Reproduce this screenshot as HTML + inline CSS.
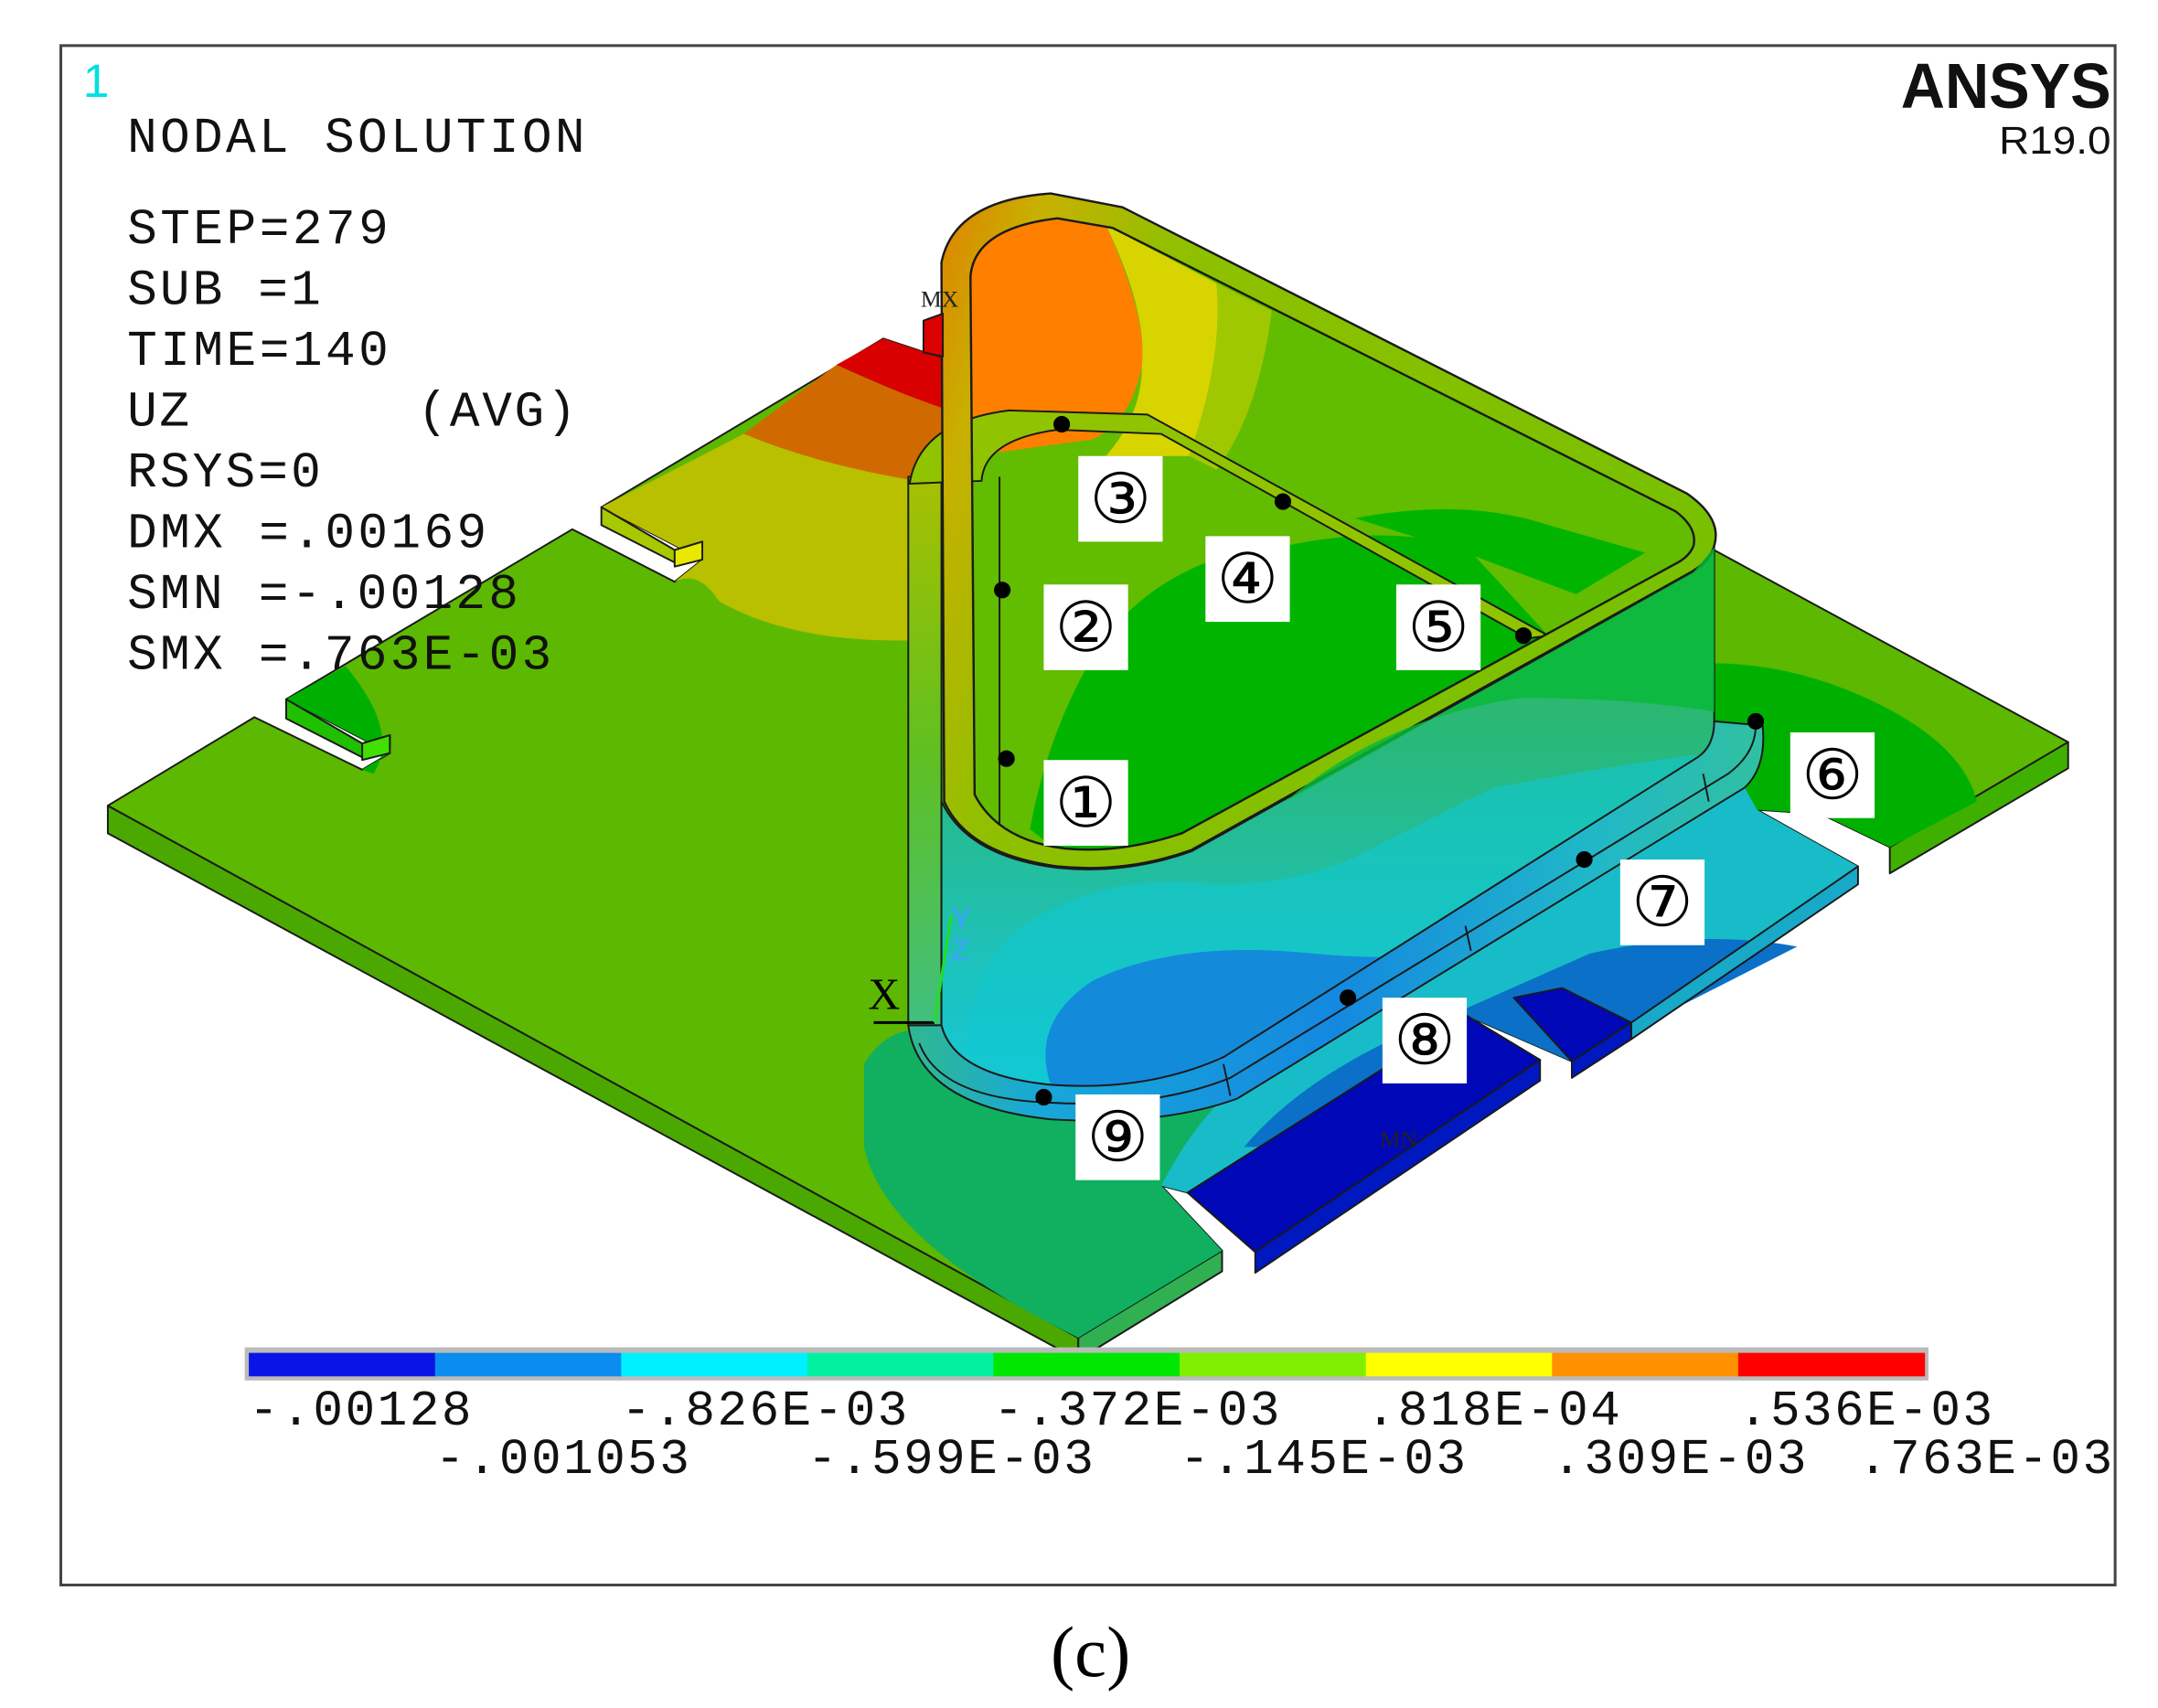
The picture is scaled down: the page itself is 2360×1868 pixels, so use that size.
<!DOCTYPE html>
<html><head><meta charset="utf-8"><style>
html,body{margin:0;padding:0;background:#fff;}
svg{display:block;}
.t{font-family:"Liberation Mono",monospace;font-size:36px;fill:#111;}
.num{font-family:"Liberation Serif","DejaVu Serif",serif;font-size:50px;fill:#000;}
</style></head><body>
<svg id="fig" width="2360" height="1868" viewBox="0 0 1561 1236" preserveAspectRatio="none" xmlns="http://www.w3.org/2000/svg">
<defs>
<linearGradient id="wallFront" x1="0" y1="0" x2="0" y2="1">
<stop offset="0" stop-color="#38b850"/><stop offset="0.35" stop-color="#28b878"/><stop offset="0.7" stop-color="#20c0b0"/><stop offset="1" stop-color="#14c8d8"/>
</linearGradient>
<linearGradient id="flange" x1="0" y1="0" x2="1" y2="0">
<stop offset="0" stop-color="#30b890"/><stop offset="0.15" stop-color="#18a8d8"/><stop offset="0.5" stop-color="#1488e0"/><stop offset="0.8" stop-color="#20b8c8"/><stop offset="1" stop-color="#30c0a0"/>
</linearGradient>
<linearGradient id="leftStrip" x1="0" y1="0" x2="0" y2="1">
<stop offset="0" stop-color="#a8c000"/><stop offset="0.5" stop-color="#60c020"/><stop offset="1" stop-color="#40c080"/>
</linearGradient>
<linearGradient id="rimGrad" x1="0" y1="0" x2="1" y2="0.3">
<stop offset="0" stop-color="#e08000"/><stop offset="0.12" stop-color="#c8b000"/><stop offset="0.3" stop-color="#90c000"/><stop offset="1" stop-color="#78c000"/>
</linearGradient>
</defs>
<rect x="44" y="33" width="1486" height="1114" fill="#fff" stroke="#444" stroke-width="2"/>
<g stroke="#1a1a1a" stroke-width="1.3" stroke-linejoin="round">
<polygon points="78,583 780,968 780,984 78,603" fill="#4aa800"/>
<polygon points="780,968 884,905 884,920 780,984" fill="#30b050"/>
<polygon points="1496,537 1496,556 1367,632 1367,613" fill="#40b000"/>
<polygon points="78,583 184,519 262,557 282,545 207,506 414,383 488,421 508,405 435,367 639,245 690,262 1238,397 1496,537 1367,613 1317,589 1271,586 1344,627 1137,768 1061,735 1114,767 908,906 859,863 840,858 884,905 780,968" fill="#5cb800"/>
<path d="M605,264 L639,245 L690,262 L690,300 Q640,280 605,264Z" fill="#d80000" stroke="none"/>
<path d="M538,314 L605,264 Q650,285 690,298 L690,352 Q600,340 538,314Z" fill="#d06a00" stroke="none"/>
<path d="M435,367 L538,314 Q600,340 690,352 L690,462 Q580,470 520,435 Q505,412 488,421 L508,405Z" fill="#b8c000" stroke="none"/>
<path d="M207,506 L250,482 Q290,530 270,560 L262,557 L282,545Z" fill="#00b000" stroke="none"/>
<path d="M1238,480 Q1300,480 1360,510 Q1420,540 1430,580 L1367,613 L1317,589 L1271,586 Q1255,560 1238,540Z" fill="#00b000" stroke="none"/>
<path d="M625,770 Q640,745 665,745 Q720,800 800,800 L900,795 L840,858 L884,905 L780,968 Q640,900 625,830Z" fill="#10b060" stroke="none"/>
<path d="M880,800 L1262,570 L1271,586 L1344,627 L1137,768 L1061,735 L859,863 L840,858 Q860,820 880,800Z" fill="#18bcc8" stroke="none"/>
<path d="M900,830 Q950,770 1060,730 L1150,690 Q1230,672 1300,685 L1137,768 L1061,735 L920,830Z" fill="#0a70c8" stroke="none"/>
<polygon points="859,863 1061,735 1114,767 908,906" fill="#0008b8"/>
<polygon points="908,906 1114,767 1114,782 908,921" fill="#0018c0"/>
<polygon points="1095,722 1130,715 1180,740 1137,768" fill="#0008b8"/>
<polygon points="1137,768 1180,740 1180,752 1137,780" fill="#0018c0"/>
<polygon points="1180,740 1344,627 1344,640 1180,752" fill="#18a8c8"/>
<polygon points="435,367 435,380 488,407 508,402 508,392 488,398" fill="#a8c800"/>
<polygon points="488,398 508,392 508,405 488,410" fill="#e8e800"/>
<polygon points="207,506 207,520 262,548 282,540 282,532 262,538" fill="#20c000"/>
<polygon points="262,538 282,532 282,545 262,550" fill="#40e000"/>
<path d="M681,190 Q690,145 760,140 L812,150 L1220,357 Q1246,375 1240,395 Q1237,405 1225,413 L862,615 Q815,632 765,627 Q700,618 683,580 Z" fill="#62bc00" stroke="none"/>
<path d="M702,200 Q705,165 765,158 L800,163 Q830,230 826,265 Q818,305 790,318 L702,330Z" fill="#ff8000" stroke="none"/>
<path d="M800,163 L880,205 Q885,260 860,330 L800,330 Q826,300 826,265 Q830,225 800,163Z" fill="#d8d400" stroke="none"/>
<path d="M880,205 L920,225 Q910,300 880,340 L860,330 Q885,260 880,205Z" fill="#a0c800" stroke="none"/>
<path d="M745,600 Q760,520 800,460 Q850,400 930,395 Q1000,380 1060,395 L1120,460 L1200,420 L1212,410 L855,603 Q800,620 760,612Z" fill="#00b400" stroke="none"/>
<path d="M980,375 Q1060,360 1120,380 L1190,400 L1140,430 L1060,400Z" fill="#00b400" stroke="none"/>
<polygon points="657,345 681,345 681,742 657,742" fill="url(#leftStrip)"/>
<path d="M658,350 Q665,305 730,297 L830,300 L1120,460 L1105,462 L840,314 L765,311 Q712,318 710,348 Z" fill="#90c400"/>
<line x1="702" y1="345" x2="702" y2="590"/>
<line x1="723" y1="345" x2="723" y2="600"/>
<path fill-rule="evenodd" d="M681,190 Q690,145 760,140 L812,150 L1220,357 Q1246,375 1240,395 Q1237,405 1225,413 L862,615 Q815,632 765,627 Q700,618 683,580 Z M702,200 Q705,165 765,158 L805,165 L1212,370 Q1228,382 1225,395 Q1222,403 1212,408 L855,603 Q810,618 770,614 Q722,608 705,575 Z" fill="url(#rimGrad)" stroke-width="1.6"/>
<path d="M681,580 Q700,620 765,628 Q815,633 862,616 L1225,414 Q1237,406 1240,396 L1240,522 Q1240,540 1228,548 L885,765 Q830,790 760,785 Q690,778 681,742 Z" fill="url(#wallFront)"/>
<path d="M930,580 Q1000,520 1100,505 Q1180,505 1240,515 L1240,396 L1225,414 Z" fill="#08b838" stroke="none" opacity="0.85"/>
<path d="M700,760 Q700,700 740,670 Q800,630 880,640 Q950,640 1000,610 L1080,570 Q1160,555 1236,545 L1228,548 L885,765 Q830,790 760,785Z" fill="#10c8d0" stroke="none" opacity="0.6"/>
<path d="M760,785 Q745,740 790,710 Q850,680 950,690 Q1000,695 1050,690 L885,765 Q830,790 760,785Z" fill="#1484dc" stroke="none" opacity="0.9"/>
<path d="M657,742 Q665,800 760,810 Q840,815 895,795 L1262,570 Q1278,555 1275,525 L1240,522 Q1240,540 1228,548 L885,765 Q830,790 760,785 Q690,778 681,742Z" fill="url(#flange)"/>
<path d="M665,755 Q680,795 760,798 Q835,802 890,780 L1250,560 Q1270,545 1270,525" fill="none"/>
<line x1="885" y1="770" x2="890" y2="793"/>
<line x1="1060" y1="670" x2="1064" y2="688"/>
<line x1="1232" y1="560" x2="1236" y2="580"/>
<polygon points="668,232 682,227 682,258 668,255" fill="#dd0000"/>
</g>
<text x="666" y="222" font-family="Liberation Serif,serif" font-size="17" fill="#222">MX</text>
<text x="998" y="830" font-family="Liberation Serif,serif" font-size="17" fill="#222">MN</text>
<g>
<line x1="632" y1="740" x2="676" y2="740" stroke="#000" stroke-width="2"/>
<line x1="676" y1="740" x2="688" y2="662" stroke="#20e020" stroke-width="2"/>
<text x="628" y="730" font-family="Liberation Serif,serif" font-size="32" fill="#000">X</text>
<text x="688" y="672" font-family="Liberation Sans,sans-serif" font-size="22" fill="#40a0ff">Y</text>
<text x="688" y="695" font-family="Liberation Sans,sans-serif" font-size="22" fill="#40a0ff">Z</text>
</g>
<g id="markers"></g>
<text x="60" y="70" font-family="Liberation Sans,sans-serif" font-size="34" fill="#00e0e0">1</text>
<text class="t" x="92" y="110" textLength="331">NODAL SOLUTION</text>
<text class="t" x="92" y="176" textLength="189">STEP=279</text>
<text class="t" x="92" y="220" textLength="140">SUB =1</text>
<text class="t" x="92" y="264" textLength="189">TIME=140</text>
<text class="t" x="92" y="308" textLength="325" xml:space="preserve">UZ       (AVG)</text>
<text class="t" x="92" y="352" textLength="140">RSYS=0</text>
<text class="t" x="92" y="396" textLength="260">DMX =.00169</text>
<text class="t" x="92" y="440" textLength="283">SMN =-.00128</text>
<text class="t" x="92" y="484" textLength="307">SMX =.763E-03</text>
<text x="1375" y="78" font-family="Liberation Sans,sans-serif" font-weight="bold" font-size="46" textLength="152" lengthAdjust="spacingAndGlyphs" fill="#111">ANSYS</text>
<text x="1446" y="111" font-family="Liberation Sans,sans-serif" font-size="28" textLength="81" lengthAdjust="spacingAndGlyphs" fill="#111">R19.0</text>
<g id="colorbar"></g>
<text x="760" y="1213" font-family="Liberation Serif,serif" font-size="52" fill="#000">(c)</text>
</svg>
<script>
const legendColors=['#0a14e6','#0a8cf0','#00f0ff','#00f0a0','#00e600','#80f000','#ffff00','#ff9000','#ff0000'];
const tickLabelsTop=['-.00128','-.826E-03','-.372E-03','.818E-04','.536E-03'];
const tickLabelsBottom=['-.001053','-.599E-03','-.145E-03','.309E-03','.763E-03'];
const markerNums=['①','②','③','④','⑤','⑥','⑦','⑧','⑨'];
const NS='http://www.w3.org/2000/svg';
const cb=document.getElementById('colorbar');
const x0=180,x1=1392,segW=(x1-x0)/legendColors.length;
const frame=document.createElementNS(NS,'rect');
frame.setAttribute('x',x0-3);frame.setAttribute('y',975);frame.setAttribute('width',x1-x0+6);frame.setAttribute('height',24);frame.setAttribute('fill','#bbb');


cb.appendChild(frame);
legendColors.forEach((c,i)=>{const r=document.createElementNS(NS,'rect');
r.setAttribute('x',x0+i*segW);r.setAttribute('y',979);r.setAttribute('width',segW+0.5);r.setAttribute('height',17);r.setAttribute('fill',c);


cb.appendChild(r);});
function addLbl(txt,x,y){const t=document.createElementNS(NS,'text');t.setAttribute('x',x);t.setAttribute('y',y);t.setAttribute('class','t');
t.setAttribute('textLength',txt.length*23);t.textContent=txt;


cb.appendChild(t);}
tickLabelsTop.forEach((s,i)=>addLbl(s,x0+i*2*segW,1031));
tickLabelsBottom.forEach((s,i)=>addLbl(s,Math.min(x0+(i*2+1)*segW,1528-s.length*23),1066));
const dots=[[728,549],[725,427],[768,307],[928,363],[1102,460],[1270,522],[1146,622],[975,722],[755,794]];
const boxes=[[755,550],[755,423],[780,330],[872,388],[1010,423],[1295,530],[1172,622],[1000,722],[778,792]];
const mg=document.getElementById('markers');
dots.forEach((d,i)=>{const c=document.createElementNS(NS,'circle');c.setAttribute('cx',d[0]);c.setAttribute('cy',d[1]);c.setAttribute('r',6);c.setAttribute('fill','#000');


mg.appendChild(c);
const b=boxes[i];const r=document.createElementNS(NS,'rect');r.setAttribute('x',b[0]);r.setAttribute('y',b[1]);r.setAttribute('width',61);r.setAttribute('height',62);r.setAttribute('fill','#fff');


mg.appendChild(r);
const t=document.createElementNS(NS,'text');t.setAttribute('x',b[0]+30.5);t.setAttribute('y',b[1]+48);t.setAttribute('text-anchor','middle');t.setAttribute('class','num');t.textContent=markerNums[i];


mg.appendChild(t);});
</script>
</body></html>
